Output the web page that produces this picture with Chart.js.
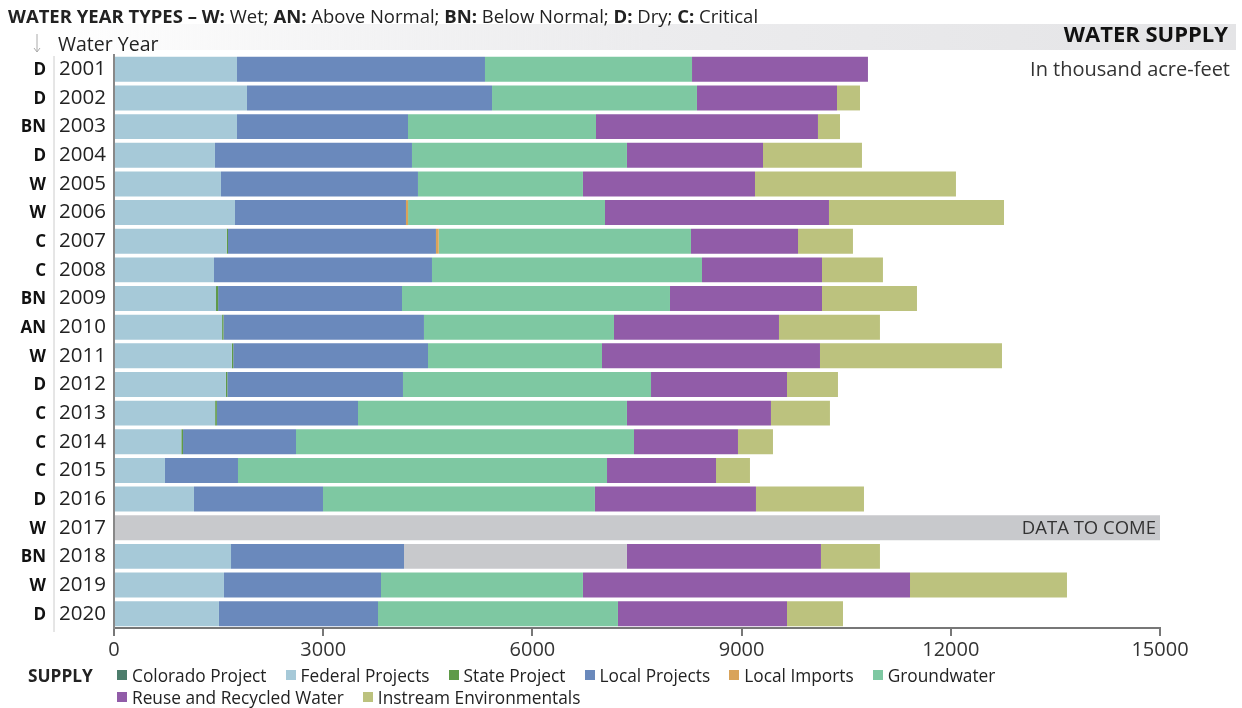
<!DOCTYPE html>
<html>
<head>
<meta charset="utf-8">
<script src="https://cdn.jsdelivr.net/npm/chart.js@4.4.0/dist/chart.umd.min.js"></script>
<style>
  body { margin: 0; background: #fff; font-family: "Open Sans", Lato, sans-serif; }
  #wrap { position: relative; width: 1242px; height: 708px; }
  #title { position: absolute; left: 8px; top: 3px; font-size: 18.5px; color: #222; white-space: nowrap; }
  #title b { font-weight: 700; }
  #legend { position: absolute; left: 28px; top: 664px; font-size: 17.3px; color: #222; }
  #legend .row { display: flex; align-items: center; height: 22px; }
  #legend .head { width: 89px; font-weight: 700; }
  #legend .item { display: flex; align-items: center; margin-right: 19px; white-space: nowrap; }
  #legend .sw { width: 10px; height: 10px; margin-right: 5px; }
</style>
</head>
<body>
<div id="wrap">
  <canvas id="myChart" width="1242" height="708"></canvas>
  <div id="title"><b>WATER YEAR TYPES – W:</b> Wet; <b>AN:</b> Above Normal; <b>BN:</b> Below Normal; <b>D:</b> Dry; <b>C:</b> Critical</div>
  <div id="legend"></div>
</div>
<script>
// water years and their type (W, AN, BN, D, C)
var years = ["2001","2002","2003","2004","2005","2006","2007","2008","2009","2010",
             "2011","2012","2013","2014","2015","2016","2017","2018","2019","2020"];
var yearTypes = ["D","D","BN","D","W","W","C","C","BN","AN","W","D","C","C","C","D","W","BN","W","D"];

// supply in thousand acre-feet
var colorado   = [0,0,0,0,0,0,0,0,0,0,0,0,0,0,0,0,0,0,0,0];
var federal    = [1764,1907,1764,1448,1534,1735,1615,1434,1463,1550,1690,1605,1450,965,731,1147,0,1678,1577,1505];
var state      = [0,0,0,0,0,0,20,0,30,20,20,20,25,25,0,0,0,0,0,0];
var local      = [3556,3514,2452,2825,2825,2452,2982,3126,2637,2875,2793,2519,2024,1620,1047,1850,0,2481,2252,2281];
var imports    = [0,0,0,0,0,30,40,0,0,0,0,0,0,0,0,0,0,0,0,0];
var groundwater= [2969,2939,2696,3083,2366,2824,3617,3872,3843,2725,2495,3557,3857,4847,5292,3900,0,0,2896,3441];
var noData     = [0,0,0,0,0,0,0,0,0,0,0,0,0,0,0,0,15000,3197,0,0];
var reuse      = [2523,2008,3183,1951,2467,3212,1535,1721,2180,2366,3126,1950,2065,1491,1563,2309,0,2782,4690,2424];
var instream   = [0,330,316,1419,2882,2510,788,874,1362,1448,2610,731,846,502,487,1549,0,846,2251,803];

var xTicks = [0,3000,6000,9000,12000,15000];

var series = [
  { label: "Colorado Project", data: colorado, color: "#4d7d6c" },
  { label: "Federal Projects", data: federal, color: "#a6c9d8" },
  { label: "State Project", data: state, color: "#5f9a48" },
  { label: "Local Projects", data: local, color: "#6a89bc" },
  { label: "Local Imports", data: imports, color: "#d9a35a" },
  { label: "Groundwater", data: groundwater, color: "#7ec8a2" },
  { label: "No data", data: noData, color: "#c8c9cc", hide: true },
  { label: "Reuse and Recycled Water", data: reuse, color: "#915ca8" },
  { label: "Instream Environmentals", data: instream, color: "#bcc27e" }
];

var datasets = series.map(function(s) {
  return {
    label: s.label,
    data: s.data,
    backgroundColor: s.color,
    borderWidth: 0,
    barPercentage: 0.87,
    categoryPercentage: 1.0
  };
});

// html legend, two rows like the original
var legend = document.getElementById("legend");
var shown = series.filter(function(s) { return !s.hide; });
var rows = [shown.slice(0, 6), shown.slice(6)];
rows.forEach(function(r, i) {
  var row = document.createElement("div");
  row.className = "row";
  var head = document.createElement("div");
  head.className = "head";
  head.textContent = i == 0 ? "SUPPLY" : "";
  row.appendChild(head);
  r.forEach(function(s) {
    var item = document.createElement("div");
    item.className = "item";
    item.innerHTML = '<span class="sw" style="background:' + s.color + '"></span>' + s.label;
    row.appendChild(item);
  });
  legend.appendChild(row);
});

var FONT = "'Open Sans'";

var extras = {
  id: "extras",
  beforeDraw: function(chart) {
    var c = chart.ctx;
    // header band
    var g = c.createLinearGradient(50, 0, 1236, 0);
    g.addColorStop(0, "rgba(230,230,232,0)");
    g.addColorStop(0.5, "#ececee");
    g.addColorStop(1, "#e4e4e6");
    c.fillStyle = g;
    c.fillRect(50, 24, 1186, 26);
    c.fillStyle = "#111";
    c.font = "bold 22px " + FONT;
    c.textAlign = "right";
    c.textBaseline = "middle";
    c.fillText("WATER SUPPLY", 1228, 36);
    c.font = "20px " + FONT;
    c.fillStyle = "#333";
    c.fillText("In thousand acre-feet", 1230, 70);

    c.textAlign = "left";
    c.font = "19.5px " + FONT;
    c.fillStyle = "#222";
    c.fillText("Water Year", 58, 45);
    // arrow
    c.strokeStyle = "#aaa";
    c.lineWidth = 1;
    c.beginPath();
    c.moveTo(37, 34); c.lineTo(37, 52);
    c.moveTo(34, 48); c.lineTo(37, 52); c.lineTo(40, 48);
    c.stroke();
    // divider between type and year
    c.strokeStyle = "#ccc";
    c.beginPath();
    c.moveTo(54, 56); c.lineTo(54, 632);
    c.stroke();
  },
  afterDatasetsDraw: function(chart) {
    var c = chart.ctx;
    var xs = chart.scales.x, ys = chart.scales.y;
    c.save();
    c.fillStyle = "#111";
    c.font = "bold 17px " + FONT;
    c.textAlign = "right";
    c.textBaseline = "middle";
    yearTypes.forEach(function(t, i) {
      c.fillText(t, 46, ys.getPixelForValue(i) + 1);
    });
    var k = years.indexOf("2017");
    c.fillStyle = "#333";
    c.font = "18.5px " + FONT;
    c.fillText("DATA TO COME", xs.getPixelForValue(15000) - 4, ys.getPixelForValue(k) + 1);
    c.restore();
  }
};

var ctx = document.getElementById("myChart").getContext("2d");
var mychart = new Chart(ctx, {
  type: "bar",
  data: { labels: years, datasets: datasets },
  plugins: [extras],
  options: {
    indexAxis: "y",
    responsive: false,
    animation: false,
    layout: { padding: { top: 55, right: 82, bottom: 44, left: 0 } },
    plugins: { legend: { display: false }, tooltip: { enabled: false } },
    scales: {
      x: {
        stacked: true,
        min: 0,
        max: 15000,
        afterBuildTicks: function(s) { s.ticks = xTicks.map(function(v) { return { value: v }; }); },
        afterFit: function(s) { s.height = 36; },
        ticks: {
          font: { family: "Open Sans", size: 20 }, color: "#333", padding: 2, maxRotation: 0,
          callback: function(v) { return String(v); }
        },
        grid: { display: true, drawOnChartArea: false, drawTicks: true, tickLength: 8, color: "#777", lineWidth: 2 },
        border: { display: true, color: "#777", width: 2 }
      },
      y: {
        stacked: true,
        afterFit: function(s) { s.width = 114; },
        ticks: { font: { family: "Open Sans", size: 20.5 }, color: "#222", padding: 8 },
        grid: { display: false, drawTicks: false },
        border: { display: true, color: "#888", width: 2 }
      }
    }
  }
});
</script>
</body>
</html>
